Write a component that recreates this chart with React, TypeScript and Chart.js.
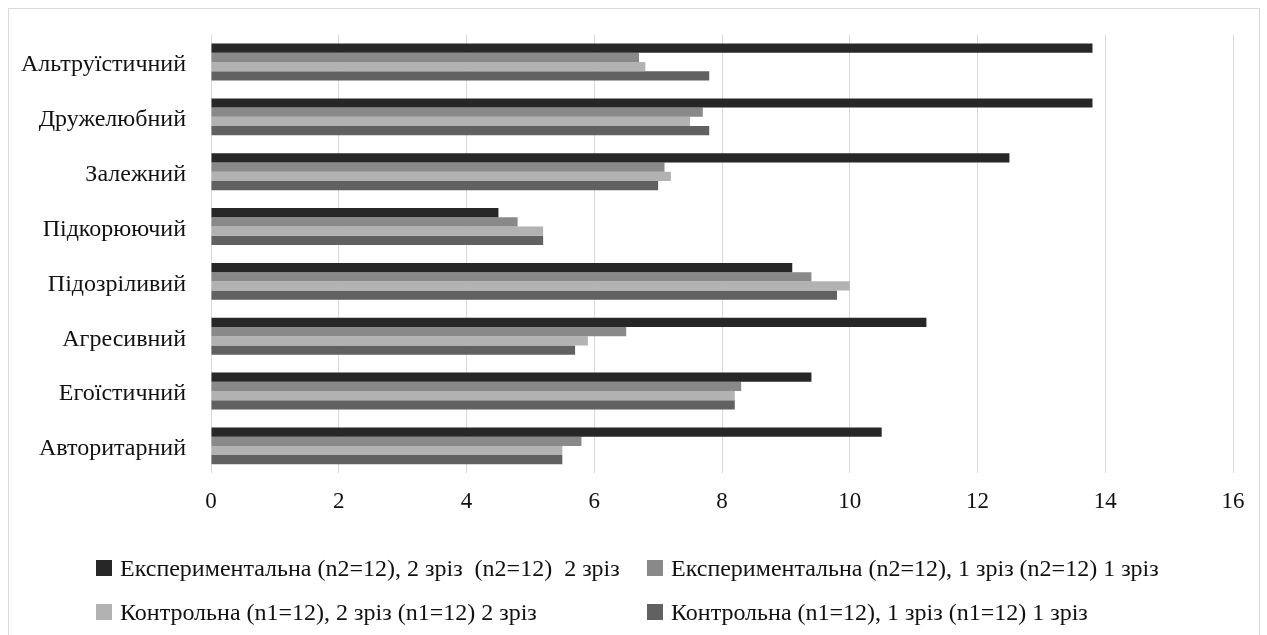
import React, { useEffect, useRef } from "react";
import { Chart, registerables } from "chart.js";

Chart.register(...registerables);

const categories = [
  "Альтруїстичний",
  "Дружелюбний",
  "Залежний",
  "Підкорюючий",
  "Підозріливий",
  "Агресивний",
  "Егоїстичний",
  "Авторитарний",
];

const seriesNames = [
  "Експериментальна (n2=12), 2 зріз  (n2=12)  2 зріз",
  "Експериментальна (n2=12), 1 зріз (n2=12) 1 зріз",
  "Контрольна (n1=12), 2 зріз (n1=12) 2 зріз",
  "Контрольна (n1=12), 1 зріз (n1=12) 1 зріз",
];

const exp2 = [13.8, 13.8, 12.5, 4.5, 9.1, 11.2, 9.4, 10.5];
const exp1 = [6.7, 7.7, 7.1, 4.8, 9.4, 6.5, 8.3, 5.8];
const con2 = [6.8, 7.5, 7.2, 5.2, 10.0, 5.9, 8.2, 5.5];
const con1 = [7.8, 7.8, 7.0, 5.2, 9.8, 5.7, 8.2, 5.5];

const colors = ["#272727", "#898989", "#b2b2b2", "#616161"];

const xMin = 0;
const xMax = 16;
const xStep = 2;

const FONT = "'Liberation Serif', 'Times New Roman', serif";

export default function App() {
  const canvasRef = useRef<HTMLCanvasElement | null>(null);

  useEffect(() => {
    const canvas = canvasRef.current;
    if (!canvas) return;
    const values = [exp2, exp1, con2, con1];
    const chart = new Chart(canvas, {
      type: "bar",
      data: {
        labels: categories,
        datasets: values.map((v, i) => ({
          label: seriesNames[i],
          data: v,
          backgroundColor: colors[i],
          borderWidth: 0,
          categoryPercentage: 0.674,
          barPercentage: 1,
        })),
      },
      options: {
        indexAxis: "y",
        animation: false,
        responsive: false,
        maintainAspectRatio: false,
        layout: { padding: { top: 34.6, right: 34, left: 0, bottom: 0 } },
        plugins: {
          legend: { display: false },
          tooltip: { enabled: false },
          title: { display: false },
        },
        scales: {
          x: {
            type: "linear",
            min: xMin,
            max: xMax,
            ticks: {
              stepSize: xStep,
              padding: 15,
              color: "#111111",
              font: { family: FONT, size: 23 },
            },
            grid: {
              color: "#d9d9d9",
              lineWidth: 1,
              drawTicks: false,
            },
            border: { display: false },
            afterFit: (axis: any) => {
              axis.height = 635 - 473.3;
            },
          },
          y: {
            type: "category",
            ticks: {
              padding: 25,
              labelOffset: 3,
              color: "#111111",
              font: { family: FONT, size: 24 },
            },
            grid: { display: false, drawTicks: false },
            border: { display: false },
            afterFit: (axis: any) => {
              axis.width = 211;
              axis.paddingTop = 0;
              axis.paddingBottom = 0;
            },
          },
        },
      },
    });
    return () => chart.destroy();
  }, []);

  const legendRows = [
    [0, 1],
    [2, 3],
  ];
  const colLeft = [96, 647];
  const rowTop = [554, 598];

  return (
    <div
      style={{
        position: "fixed",
        left: 0,
        top: 0,
        width: 1267,
        height: 635,
        background: "#ffffff",
        overflow: "hidden",
      }}
    >
      <canvas
        ref={canvasRef}
        width={1267}
        height={635}
        style={{ position: "absolute", left: 0, top: 0, width: 1267, height: 635 }}
      />
      {legendRows.map((row, r) =>
        row.map((idx, c) => (
          <div
            key={idx}
            style={{
              position: "absolute",
              left: colLeft[c],
              top: rowTop[r],
              height: 28,
              display: "flex",
              alignItems: "center",
              fontFamily: FONT,
              fontSize: 24,
              lineHeight: "28px",
              color: "#111111",
              whiteSpace: "pre",
            }}
          >
            <span
              style={{
                display: "inline-block",
                width: 16,
                height: 16,
                background: colors[idx],
                marginRight: 8,
              }}
            />
            <span>{seriesNames[idx]}</span>
          </div>
        ))
      )}
      <div
        style={{
          position: "absolute",
          left: 8,
          top: 8,
          width: 1250,
          height: 700,
          border: "1px solid #d9d9d9",
          pointerEvents: "none",
        }}
      />
    </div>
  );
}
